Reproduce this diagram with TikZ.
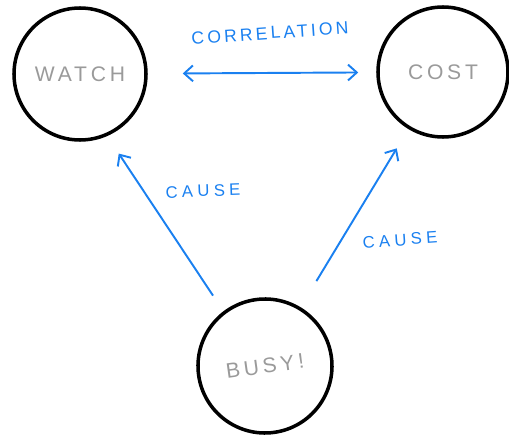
\documentclass[tikz,border=0pt]{standalone}
\usepackage{fontspec}
\setmainfont{Liberation Sans}
\usetikzlibrary{arrows.meta}

\definecolor{pen}{HTML}{1A80F0}
\definecolor{pencil}{HTML}{9A9A9A}
\newfontfamily\sketchfont[LetterSpace=18]{Liberation Sans}

\tikzset{
  thing/.style={circle, draw=black, line width=2pt, minimum size=2.64cm,
    inner sep=0pt, text=pencil, font=\sketchfont\fontsize{12}{12}\selectfont},
  link/.style={draw=pen, line width=1.1pt, -{Straight Barb[length=5pt,width=9pt]}},
  tag/.style={text=pen, font=\sketchfont\fontsize{10}{10}\selectfont}
}

\begin{document}
\begin{tikzpicture}
\useasboundingbox (0,0) rectangle (10.18,8.68);

% the three circles
\node[thing] (watch) at (1.6,7.2) {WATCH};
\node[thing, minimum size=2.6cm] (cost) at (8.86,7.24) {COST};
\node[thing, minimum size=2.68cm, rotate=8] (busy) at (5.3,1.36) {\raisebox{-4pt}{BUSY!}};

% arrows between them
\draw[link, {Straight Barb[length=5pt,width=9pt]}-{Straight Barb[length=5pt,width=9pt]},
  shorten <=0.7cm, shorten >=0.36cm] (watch) -- (cost);
\draw[link, shorten <=1.69cm, shorten >=1.91cm] ([xshift=-3pt]busy.center) -- ([xshift=-8pt]watch.center);
\draw[link, shorten <=0.61cm, shorten >=0.45cm] (busy) -- (cost);

% labels
\node[tag, rotate=4] (corr) at (5.4,8.02) {CORRELATION};
\node[tag, rotate=2, font=\sketchfont\fontsize{9.5}{9.5}\selectfont] (causeL) at (4.06,4.86) {\addfontfeature{LetterSpace=26}CAUSE};
\node[tag, rotate=4, font=\sketchfont\fontsize{9.5}{9.5}\selectfont] (causeR) at (8.0,3.88) {\addfontfeature{LetterSpace=26}CAUSE};

\end{tikzpicture}
\end{document}
